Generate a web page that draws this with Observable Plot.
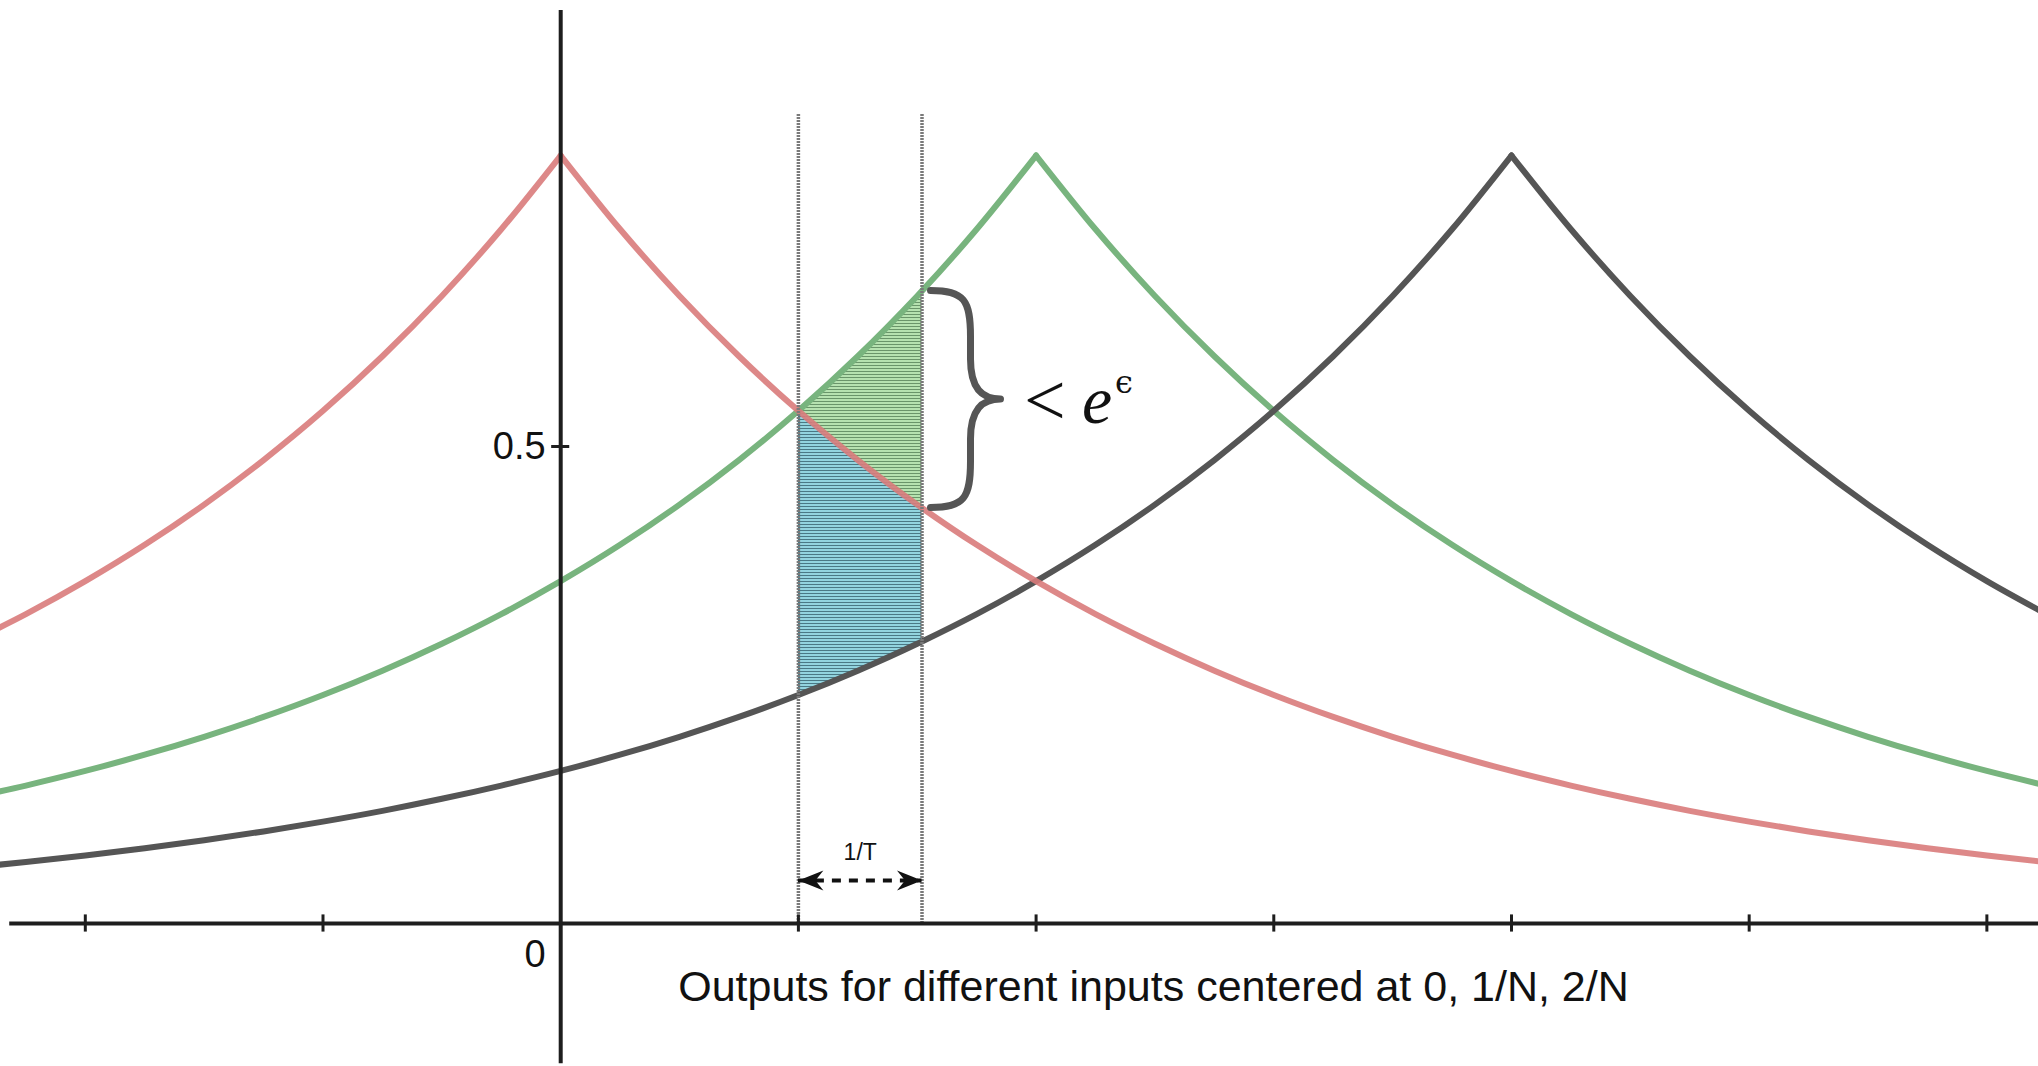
<!DOCTYPE html>
<html>
<head>
<meta charset="utf-8">
<script src="https://cdn.jsdelivr.net/npm/d3@7"></script>
<script src="https://cdn.jsdelivr.net/npm/@observablehq/plot@0.6"></script>
<style>
  html, body { margin: 0; padding: 0; background: #fff; overflow: hidden; }
  #chart svg { display: block; }
</style>
</head>
<body>
<div id="chart"></div>
<script>
// ---- data (x in units of 1/N) ----
const xs = [-1.25, -1.125, -1, -0.875, -0.75, -0.625, -0.5, -0.375, -0.25, -0.125,
  0, 0.125, 0.25, 0.375, 0.5, 0.625, 0.75, 0.76, 0.875, 1, 1.125, 1.25, 1.375, 1.5,
  1.625, 1.75, 1.875, 2, 2.125, 2.25, 2.375, 2.5, 2.625, 2.75, 2.875, 3, 3.125];
const redY = [0.2932, 0.3243, 0.3588, 0.3969, 0.4391, 0.4858, 0.5374, 0.5946, 0.6578, 0.7277,
  0.805, 0.7277, 0.6578, 0.5946, 0.5374, 0.4858, 0.4391, 0.4356, 0.3969, 0.3588, 0.3243, 0.2932,
  0.2650, 0.2395, 0.2165, 0.1957, 0.1769, 0.1599, 0.1446, 0.1307, 0.1181, 0.1068, 0.0965, 0.0872,
  0.0789, 0.0713, 0.0644];
const greenY = [0.1307, 0.1446, 0.1599, 0.1769, 0.1957, 0.2165, 0.2395, 0.2650, 0.2932, 0.3243,
  0.3588, 0.3969, 0.4391, 0.4858, 0.5374, 0.5946, 0.6578, 0.6631, 0.7277, 0.805, 0.7277, 0.6578,
  0.5946, 0.5374, 0.4858, 0.4391, 0.3969, 0.3588, 0.3243, 0.2932, 0.2650, 0.2395, 0.2165, 0.1957,
  0.1769, 0.1599, 0.1446];
const darkY = [0.0582, 0.0644, 0.0713, 0.0789, 0.0872, 0.0965, 0.1068, 0.1181, 0.1307, 0.1446,
  0.1599, 0.1769, 0.1957, 0.2165, 0.2395, 0.2650, 0.2932, 0.2956, 0.3243, 0.3588, 0.3969, 0.4391,
  0.4858, 0.5374, 0.5946, 0.6578, 0.7277, 0.805, 0.7277, 0.6578, 0.5946, 0.5374, 0.4858, 0.4391,
  0.3969, 0.3588, 0.3243];
const seriesNames = ["red", "green", "dark"];
const seriesCenters = [0, 1, 2];
const seriesColors = ["#d97b7b", "#78b47e", "#555555"];

const xTicks = [-1, -0.5, 0.5, 1, 1.5, 2, 2.5, 3];
const yTicks = [0.5];
const yTickLabels = ["0.5"];
const originLabel = ["0"];
const windowXs = [0.5, 0.76];      // the 1/T window
const windowTop = 0.848;
const arrowY = 0.045;
const windowLabel = ["1/T"];
const caption = ["Outputs for different inputs centered at 0, 1/N, 2/N"];

// ---- build tables ----
const seriesValues = [redY, greenY, darkY];
function seriesRows(si) {
  const c = seriesCenters[si], vals = seriesValues[si], rows = [];
  xs.forEach((x, i) => {
    if (x <= c) rows.push({x, y: vals[i], side: "L"});
    if (x >= c) rows.push({x, y: vals[i], side: "R"});
  });
  return rows;
}
const areaRows = xs.map((x, i) => ({x, top: greenY[i], mid: redY[i], bottom: darkY[i]}))
  .filter(d => d.x >= windowXs[0] && d.x <= windowXs[1]);
const iw = xs.indexOf(windowXs[1]);
const braceTop = greenY[iw], braceBottom = redY[iw], braceMid = (braceTop + braceBottom) / 2;

const arrowHead = {
  draw(ctx) {
    const L = 25, H = 10;
    ctx.moveTo(0, 0);
    ctx.lineTo(-L, -H);
    ctx.lineTo(-L * 0.68, 0);
    ctx.lineTo(-L, H);
    ctx.closePath();
  }
};

const sans = "Liberation Sans, Arial, Helvetica, sans-serif";
const serif = "Liberation Serif, Times New Roman, serif";
const axisColor = "#1e1e1e";
const lw = 6;

const plot = Plot.plot({
  width: 2038,
  height: 1066,
  margin: 0,
  x: {domain: [-1.1784, 3.1086], axis: null},
  y: {domain: [-0.1499, 0.9675], axis: null},
  style: {background: "#fff", overflow: "hidden"},
  marks: [
    Plot.areaY(areaRows, {x: "x", y1: "mid", y2: "top", fill: "url(#greenHatch)", curve: "monotone-x"}),
    Plot.areaY(areaRows, {x: "x", y1: "bottom", y2: "mid", fill: "url(#blueHatch)", curve: "monotone-x"}),
    Plot.line(seriesRows(1), {x: "x", y: "y", z: "side", stroke: seriesColors[1], strokeWidth: lw, curve: "monotone-x"}),
    Plot.line(seriesRows(2), {x: "x", y: "y", z: "side", stroke: seriesColors[2], strokeWidth: lw, curve: "monotone-x"}),
    Plot.line(seriesRows(0), {x: "x", y: "y", z: "side", stroke: seriesColors[0], strokeWidth: lw, strokeOpacity: 0.9, curve: "monotone-x"}),
    Plot.ruleX(windowXs, {y1: 0, y2: windowTop, stroke: "#7a7a7a", strokeWidth: 3.5, strokeDasharray: "2,1"}),
    Plot.ruleY([0], {x1: -1.159, x2: 3.2, stroke: axisColor, strokeWidth: 4}),
    Plot.ruleX([0], {y1: -0.147, y2: 0.957, stroke: axisColor, strokeWidth: 4}),
    Plot.ruleX(xTicks, {y1: -0.009, y2: 0.009, stroke: axisColor, strokeWidth: 3}),
    Plot.ruleY(yTicks, {x1: -0.019, x2: 0.019, stroke: axisColor, strokeWidth: 3}),
    Plot.text(yTicks, {x: 0, y: d => d, text: (d, i) => yTickLabels[i], textAnchor: "end", dx: -15, fontSize: 38, fontFamily: sans, fill: "#111"}),
    Plot.text(originLabel, {x: 0, y: 0, text: d => d, textAnchor: "end", dx: -15, dy: 31, fontSize: 38, fontFamily: sans, fill: "#111"}),
    Plot.ruleY([arrowY], {x1: windowXs[0], x2: windowXs[1], stroke: "#111", strokeWidth: 4, strokeDasharray: "9,8"}),
    Plot.dot(windowXs, {x: d => d, y: arrowY, symbol: arrowHead, r: 10, fill: "#111", stroke: "none", rotate: (d, i) => i === 0 ? 180 : 0}),
    Plot.text(windowLabel, {x: (windowXs[0] + windowXs[1]) / 2, y: arrowY, text: d => d, dy: -28, fontSize: 23, fontFamily: sans, fill: "#111"}),
    Plot.text(["<"], {x: windowXs[1], y: braceMid, text: d => d, textAnchor: "start", dx: 102, dy: 2, fontSize: 74, fontFamily: serif, fill: "#111"}),
    Plot.text(["e"], {x: windowXs[1], y: braceMid, text: d => d, textAnchor: "start", dx: 160, dy: 2, fontSize: 68, fontStyle: "italic", fontFamily: serif, fill: "#111"}),
    Plot.text(["\u03F5"], {x: windowXs[1], y: braceMid, text: d => d, textAnchor: "start", dx: 193, dy: -17, fontSize: 32, fontFamily: "DejaVu Serif, DejaVu Sans, serif", fill: "#111"}),
    Plot.text(caption, {frameAnchor: "bottom", lineAnchor: "middle", text: d => d, dx: 134, dy: -79, fontSize: 43, fontFamily: sans, fill: "#111"})
  ]
});

// hatch patterns + brace drawn through the plot's scales
const svg = d3.select(plot);
const defs = svg.insert("defs", ":first-child");
function hatch(id, light, dark) {
  const p = defs.append("pattern").attr("id", id).attr("patternUnits", "userSpaceOnUse")
    .attr("width", 6).attr("height", 3);
  p.append("rect").attr("width", 6).attr("height", 3).attr("fill", light);
  p.append("rect").attr("y", 2).attr("width", 6).attr("height", 1).attr("fill", dark);
}
hatch("greenHatch", "#b6e2b0", "#6a956a");
hatch("blueHatch", "#92d4df", "#4a7985");

const sx = plot.scale("x"), sy = plot.scale("y");
const fx = sx.apply ? v => sx.apply(v) : d3.scaleLinear(sx.domain, sx.range);
const fy = sy.apply ? v => sy.apply(v) : d3.scaleLinear(sy.domain, sy.range);
const x0 = fx(windowXs[1]) + 9, xa = x0 + 40, xp = x0 + 70;
const yt = fy(braceTop), yb = fy(braceBottom), ym = (yt + yb) / 2;
const bracePath = `M${x0},${yt} C${x0 + 34},${yt} ${xa},${yt + 10} ${xa},${yt + 46}
  L${xa},${ym - 40} C${xa},${ym - 10} ${xa + 12},${ym} ${xp},${ym}
  C${xa + 12},${ym} ${xa},${ym + 10} ${xa},${ym + 40}
  L${xa},${yb - 46} C${xa},${yb - 10} ${x0 + 34},${yb} ${x0},${yb}`;
svg.append("path").attr("d", bracePath).attr("fill", "none").attr("stroke", "#555")
  .attr("stroke-width", 7).attr("stroke-linecap", "round").attr("stroke-linejoin", "round");

document.getElementById("chart").appendChild(plot);
</script>
</body>
</html>
